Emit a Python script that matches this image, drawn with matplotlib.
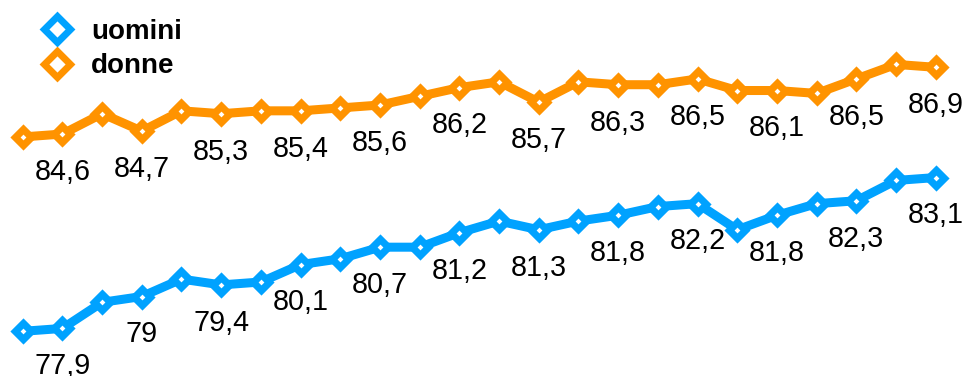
import matplotlib.pyplot as plt
from matplotlib.lines import Line2D

plt.rcParams['font.family'] = ['Liberation Sans', 'DejaVu Sans']

# speranza di vita alla nascita, una serie per anno
anni = list(range(1992, 2016))
uomini = [77.8, 77.9, 78.8, 79.0, 79.6, 79.4, 79.5, 80.1, 80.3, 80.7, 80.7, 81.2,
          81.6, 81.3, 81.6, 81.8, 82.1, 82.2, 81.3, 81.8, 82.2, 82.3, 83.0, 83.1]
donne = [84.5, 84.6, 85.3, 84.7, 85.4, 85.3, 85.4, 85.4, 85.5, 85.6, 85.9, 86.2,
         86.4, 85.7, 86.4, 86.3, 86.3, 86.5, 86.1, 86.1, 86.0, 86.5, 87.0, 86.9]

blu = '#00A2FF'
arancio = '#FF9300'

fig = plt.figure(figsize=(9.63, 3.76), dpi=100)
ax = fig.add_axes([0, 0, 1, 1])
ax.axis('off')

for valori, col in [(uomini, blu), (donne, arancio)]:
    ax.plot(anni, valori, color=col, lw=6.5, marker='D', ms=8.2,
            mfc='white', mec=col, mew=5.2, solid_joinstyle='miter', zorder=2)
    # etichette ogni due anni, sotto il punto
    for i in range(1, len(anni), 2):
        testo = ('%g' % valori[i]).replace('.', ',')
        ax.annotate(testo, (anni[i], valori[i]), xytext=(0, -33),
                    textcoords='offset points', ha='center', va='baseline',
                    fontsize=20.7)

x0 = anni[0] - 0.572
ax.set_xlim(x0, x0 + 24.26)
ax.set_ylim(76.26, 89.22)

maniglie = [Line2D([], [], ls='none', marker='D', ms=13.5, mfc='white', mec=c, mew=5.0)
            for c in (blu, arancio)]
ax.legend(maniglie, ['uomini', 'donne'], loc='upper left',
          bbox_to_anchor=(43 / 963, 1 - 19 / 376), frameon=False,
          prop={'size': 20, 'weight': 'bold'}, handlelength=1.0,
          handletextpad=0.73, borderpad=0, borderaxespad=0, labelspacing=0.3)

fig.savefig('out.png', dpi=100)
